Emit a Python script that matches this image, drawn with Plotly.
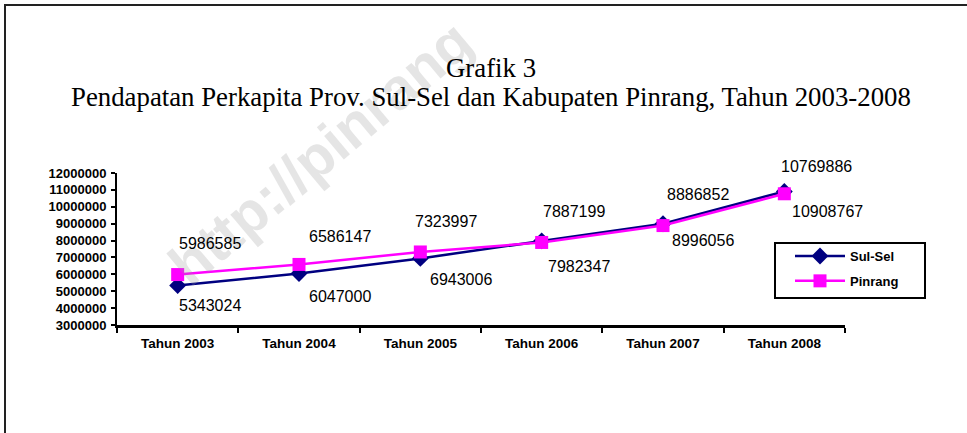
import plotly.graph_objects as go

# ---------------- data ----------------
categories = ["Tahun 2003", "Tahun 2004", "Tahun 2005", "Tahun 2006", "Tahun 2007", "Tahun 2008"]
sulsel = [5343024, 6047000, 6943006, 7982347, 8996056, 10908767]
pinrang = [5986585, 6586147, 7323997, 7887199, 8886852, 10769886]
y_tick_values = [3000000, 4000000, 5000000, 6000000, 7000000, 8000000,
                 9000000, 10000000, 11000000, 12000000]
title_line1 = "Grafik 3"
title_line2 = "Pendapatan Perkapita Prov. Sul-Sel dan Kabupaten Pinrang, Tahun 2003-2008"
watermark = "http://pinrang"

# ---------------- style ----------------
W, H = 967, 433
ML, MR, MT, MB = 117, 122, 173, 108
SANS = "Liberation Sans, Arial, sans-serif"
SERIF = "Liberation Serif, Times New Roman, serif"

# data-label offsets in pixels (xshift, yshift)
sulsel_shift = [(32, -20), (41, -23), (41, -21), (37, -26), (40, -17), (43, -20)]
pinrang_shift = [(32, 31), (41, 28), (26, 30), (32, 31), (35, 31), (32, 27)]


def px(x):
    return (x - ML) / (W - ML - MR)


def py(y):
    return (H - MB - y) / (H - MT - MB)


fig = go.Figure()
fig.add_trace(go.Scatter(
    x=categories, y=sulsel, name="Sul-Sel", mode="lines+markers",
    line=dict(color="#000080", width=2.5),
    marker=dict(symbol="diamond", size=13, color="#000080"),
    legendgroup="a", cliponaxis=False,
))
fig.add_trace(go.Scatter(
    x=categories, y=pinrang, name="Pinrang", mode="lines+markers",
    line=dict(color="#FF00FF", width=2.5),
    marker=dict(symbol="square", size=13, color="#FF00FF"),
    legendgroup="b", cliponaxis=False,
))

annotations = []
# watermark
annotations.append(dict(
    text=watermark, xref="paper", yref="paper", x=px(320), y=py(152),
    xanchor="center", yanchor="middle", textangle=-40, showarrow=False,
    font=dict(family=SANS, size=58, color="rgba(150,150,150,0.25)", weight="bold"),
))
# titles
annotations.append(dict(
    text=title_line1, xref="paper", yref="paper", x=px(491), y=py(68),
    xanchor="center", yanchor="middle", showarrow=False,
    font=dict(family=SERIF, size=26.8, color="black"),
))
annotations.append(dict(
    text=title_line2, xref="paper", yref="paper", x=px(491), y=py(97),
    xanchor="center", yanchor="middle", showarrow=False,
    font=dict(family=SERIF, size=26.8, color="black"),
))
# data labels
for cat, val, (dx, dy) in zip(categories, sulsel, sulsel_shift):
    annotations.append(dict(
        text=str(val), x=cat, y=val, xref="x", yref="y", xshift=dx, yshift=dy,
        showarrow=False, font=dict(family=SANS, size=16, color="black"),
    ))
for cat, val, (dx, dy) in zip(categories, pinrang, pinrang_shift):
    annotations.append(dict(
        text=str(val), x=cat, y=val, xref="x", yref="y", xshift=dx, yshift=dy,
        showarrow=False, font=dict(family=SANS, size=16, color="black"),
    ))

shapes = [
    # outer frame (continues past the right and bottom edges)
    dict(type="rect", xref="paper", yref="paper",
         x0=px(5), x1=px(1000), y0=py(470), y1=py(5),
         line=dict(color="#222222", width=2), fillcolor="rgba(0,0,0,0)", layer="below"),
    # legend box
    dict(type="rect", xref="paper", yref="paper",
         x0=px(775), x1=px(925), y0=py(298), y1=py(243),
         line=dict(color="black", width=2), fillcolor="white", layer="below"),
]

fig.update_layout(
    width=W, height=H,
    margin=dict(l=ML, r=MR, t=MT, b=MB, pad=0),
    paper_bgcolor="white", plot_bgcolor="rgba(0,0,0,0)",
    showlegend=True,
    legend=dict(
        x=px(790), y=py(241), xanchor="left", yanchor="top",
        bgcolor="rgba(0,0,0,0)", borderwidth=0, tracegroupgap=5,
        itemwidth=50,
        font=dict(family=SANS, size=13, color="black", weight="bold"),
    ),
    annotations=annotations,
    shapes=shapes,
    xaxis=dict(
        type="category", range=[-0.5, 5.5], tickson="boundaries",
        ticks="outside", ticklen=5, tickwidth=2, tickcolor="black",
        showline=True, linewidth=2.5, linecolor="black",
        showgrid=False, zeroline=False, ticklabelstandoff=4,
        tickfont=dict(family=SANS, size=13.5, color="black", weight="bold"),
    ),
    yaxis=dict(
        range=[3000000, 12000000], tickvals=y_tick_values, tickformat="d",
        ticks="outside", ticklen=4, tickwidth=2, tickcolor="black",
        showline=True, linewidth=2, linecolor="black",
        showgrid=False, zeroline=False, ticklabelstandoff=2,
        tickfont=dict(family=SANS, size=13, color="black", weight="bold"),
    ),
)

fig.write_html(
    "out.html",
    config={"displayModeBar": False, "staticPlot": True},
    post_script="document.body.style.margin='0';document.body.style.padding='0';"
                "document.body.style.overflow='hidden';",
)
